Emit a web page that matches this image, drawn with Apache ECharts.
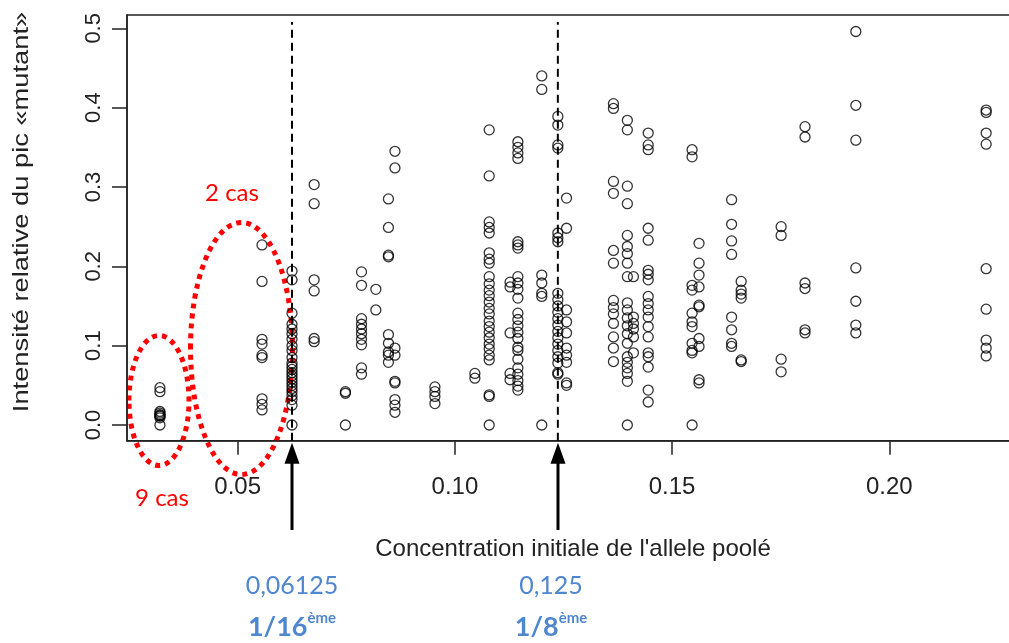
<!DOCTYPE html>
<html>
<head>
<meta charset="utf-8">
<script src="https://cdn.jsdelivr.net/npm/echarts@6/dist/echarts.min.js"></script>
<style>html,body{margin:0;padding:0;background:#fff}#c{width:1009px;height:643px}</style>
</head>
<body>
<div id="c"></div>
<script>
// initial concentration of each column of points
const concentrations = [0.0321, 0.0556, 0.0625, 0.0676, 0.0748, 0.0785, 0.0818, 0.0847, 0.0862, 0.0954,
  0.1046, 0.1079, 0.1127, 0.1145, 0.1200, 0.1237, 0.1257, 0.1365, 0.1397, 0.1411,
  0.1445, 0.1546, 0.1562, 0.1637, 0.1659, 0.1751, 0.1806, 0.1923, 0.2223];
// relative intensity of the "mutant" peak, one list per concentration
const intensities = [
  [0.047, 0.042, 0.017, 0.015, 0.013, 0.012, 0.011, 0.009, 0.0],
  [0.227, 0.181, 0.108, 0.102, 0.088, 0.085, 0.033, 0.026, 0.019],
  [0.194, 0.183, 0.141, 0.127, 0.121, 0.115, 0.108, 0.100, 0.094, 0.085, 0.078, 0.074, 0.070, 0.066, 0.062, 0.058, 0.054, 0.050, 0.046, 0.042, 0.037, 0.032, 0.025, 0.0],
  [0.303, 0.279, 0.183, 0.169, 0.109, 0.105],
  [0.042, 0.040, 0.0],
  [0.193, 0.176, 0.134, 0.127, 0.121, 0.115, 0.108, 0.101, 0.072, 0.064],
  [0.171, 0.145],
  [0.285, 0.249, 0.214, 0.212, 0.114, 0.103, 0.092, 0.088, 0.079],
  [0.345, 0.324, 0.097, 0.088, 0.055, 0.053, 0.032, 0.025, 0.016],
  [0.048, 0.042, 0.036, 0.027],
  [0.065, 0.059],
  [0.372, 0.314, 0.256, 0.249, 0.242, 0.217, 0.209, 0.204, 0.187, 0.178, 0.170, 0.163, 0.155, 0.147, 0.140, 0.131, 0.124, 0.117, 0.110, 0.102, 0.096, 0.088, 0.082, 0.038, 0.036, 0.0],
  [0.180, 0.174, 0.116, 0.065, 0.057],
  [0.357, 0.350, 0.343, 0.336, 0.231, 0.227, 0.223, 0.187, 0.179, 0.171, 0.160, 0.141, 0.133, 0.125, 0.117, 0.109, 0.098, 0.094, 0.083, 0.072, 0.064, 0.056, 0.049, 0.044],
  [0.440, 0.423, 0.189, 0.179, 0.166, 0.162, 0.0],
  [0.389, 0.378, 0.353, 0.349, 0.242, 0.236, 0.231, 0.166, 0.158, 0.150, 0.142, 0.134, 0.126, 0.118, 0.110, 0.102, 0.094, 0.086, 0.078, 0.066, 0.064],
  [0.286, 0.248, 0.145, 0.130, 0.116, 0.097, 0.088, 0.079, 0.053, 0.050],
  [0.405, 0.399, 0.307, 0.292, 0.220, 0.204, 0.157, 0.148, 0.140, 0.128, 0.111, 0.097, 0.080],
  [0.384, 0.372, 0.301, 0.279, 0.239, 0.225, 0.216, 0.204, 0.187, 0.154, 0.145, 0.135, 0.125, 0.115, 0.103, 0.086, 0.079, 0.072, 0.065, 0.055, 0.0],
  [0.187, 0.136, 0.128, 0.121, 0.111, 0.091],
  [0.368, 0.353, 0.347, 0.248, 0.233, 0.195, 0.190, 0.183, 0.162, 0.153, 0.145, 0.136, 0.124, 0.111, 0.091, 0.086, 0.073, 0.044, 0.029],
  [0.347, 0.338, 0.176, 0.170, 0.141, 0.130, 0.124, 0.103, 0.094, 0.091, 0.0],
  [0.229, 0.204, 0.189, 0.174, 0.151, 0.149, 0.109, 0.099, 0.057, 0.053],
  [0.284, 0.253, 0.232, 0.215, 0.136, 0.120, 0.103, 0.099],
  [0.181, 0.170, 0.165, 0.160, 0.082, 0.080],
  [0.250, 0.239, 0.083, 0.067],
  [0.376, 0.363, 0.179, 0.172, 0.120, 0.116],
  [0.496, 0.403, 0.359, 0.198, 0.156, 0.126, 0.116],
  [0.397, 0.394, 0.368, 0.354, 0.197, 0.146, 0.107, 0.097, 0.087]
];
const xTickValues = [0.05, 0.10, 0.15, 0.20];
const yTickValues = [0.0, 0.1, 0.2, 0.3, 0.4, 0.5];
const referenceLines = [0.0625, 0.1237];
const xTitle = "Concentration initiale de l'allele poolé";
const yTitle = "Intensité relative du pic «mutant»";
const refValueLabels = ["0,06125", "0,125"];
const refFractionLabels = ["1/16", "1/8"];
const groupLabels = ["9 cas", "2 cas"];

const points = [];
concentrations.forEach((x, i) => intensities[i].forEach(y => points.push([x, y])));

const Y_MIN = -0.0198, Y_MAX = 0.5168;
const chart = echarts.init(document.getElementById('c'), null, {renderer: 'canvas'});
const FONT = 'Liberation Sans, Arial, sans-serif';
const BLUE = '#4F86D0';

const refSeries = referenceLines.map(v => ({
  type: 'line', data: [[v, Y_MIN], [v, 0.508]], symbol: 'none', silent: true,
  lineStyle: {color: '#000', type: [8, 5], width: 2}, emphasis: {disabled: true}, z: 1
}));

const option = {
  animation: false,
  backgroundColor: '#fff',
  grid: {left: 127, top: 15, width: 892, height: 425.7, outerBoundsMode: 'none', containLabel: false,
    show: true, borderColor: '#222', borderWidth: 1.5, backgroundColor: 'transparent'},
  xAxis: {
    type: 'value', min: 0.024517, max: 0.22986,
    splitLine: {show: false},
    axisLine: {show: true, onZero: false, lineStyle: {color: '#222', width: 1.5}},
    axisTick: {show: true, customValues: xTickValues, length: 14, lineStyle: {color: '#222', width: 1.5}},
    axisLabel: {customValues: xTickValues, formatter: v => v.toFixed(2), fontFamily: FONT, fontSize: 24, color: '#222', margin: 35},
    name: xTitle, nameLocation: 'middle', nameGap: 97,
    nameTextStyle: {fontFamily: FONT, fontSize: 24, color: '#222'}
  },
  yAxis: {
    type: 'value', min: Y_MIN, max: Y_MAX,
    splitLine: {show: false},
    axisLine: {show: true, onZero: false, lineStyle: {color: '#222', width: 1.5}},
    axisTick: {show: true, customValues: yTickValues, length: 15, lineStyle: {color: '#222', width: 1.5}},
    axisLabel: {customValues: yTickValues, formatter: v => v.toFixed(1), rotate: 90, fontFamily: FONT, fontSize: 22, color: '#222', margin: 22}
  },
  series: refSeries.concat([{
    type: 'scatter',
    data: points,
    symbol: 'circle',
    symbolSize: 10,
    itemStyle: {color: 'rgba(0,0,0,0)', borderColor: '#000', borderWidth: 1.3},
    emphasis: {disabled: true},
    silent: true,
    z: 2
  }])
};
chart.setOption(option);

// annotations placed relative to the axes
function px(v) { return chart.convertToPixel({xAxisIndex: 0}, v); }
function py(v) { return chart.convertToPixel({yAxisIndex: 0}, v); }
const graphics = [];
const arrowTop = py(Y_MIN) + 2;
referenceLines.forEach((v, i) => {
  const x = Math.round(px(v));
  graphics.push({type: 'line', shape: {x1: x, y1: arrowTop + 18, x2: x, y2: 530}, style: {stroke: '#000', lineWidth: 3}});
  graphics.push({type: 'polygon', shape: {points: [[x, arrowTop], [x - 7.5, arrowTop + 21], [x + 7.5, arrowTop + 21]]}, style: {fill: '#000'}});
  graphics.push({type: 'text', x: x - (i === 0 ? 0 : 7), y: 586, style: {text: refValueLabels[i], fontFamily: 'Lato, Open Sans, sans-serif', fontSize: 25, fill: BLUE, align: 'center', verticalAlign: 'middle'}});
  graphics.push({type: 'text', x: x - (i === 0 ? 0 : 7), y: 626, style: {
    text: '{b|' + refFractionLabels[i] + '}{s|ème}', align: 'center', verticalAlign: 'middle',
    rich: {
      b: {fontFamily: 'Lato, Open Sans, sans-serif', fontSize: 27, fontWeight: 'bold', fill: BLUE, lineHeight: 30, verticalAlign: 'bottom'},
      s: {fontFamily: 'Lato, Open Sans, sans-serif', fontSize: 15, fontWeight: 'bold', fill: BLUE, lineHeight: 30, verticalAlign: 'top', padding: [0, 0, 14, 0]}
    }}});
});
// red dotted ellipses around the low-concentration groups
graphics.push({type: 'ellipse', shape: {cx: 159, cy: 400.5, rx: 30, ry: 65}, style: {fill: null, stroke: '#FF0000', lineWidth: 5, lineDash: [5, 5]}});
graphics.push({type: 'ellipse', shape: {cx: 241.5, cy: 348.5, rx: 51, ry: 126}, style: {fill: null, stroke: '#FF0000', lineWidth: 5, lineDash: [5, 5]}});
graphics.push({type: 'text', x: 162, y: 498, style: {text: groupLabels[0], fontFamily: 'Lato, sans-serif', fontSize: 24, fill: '#FF0000', align: 'center', verticalAlign: 'middle'}});
graphics.push({type: 'text', x: 232, y: 193, style: {text: groupLabels[1], fontFamily: 'Lato, sans-serif', fontSize: 24, fill: '#FF0000', align: 'center', verticalAlign: 'middle'}});
// y axis title
graphics.push({type: 'text', x: 22, y: 212, rotation: Math.PI / 2, scaleX: 1.24, style: {text: yTitle, fontFamily: FONT, fontSize: 22, fill: '#222', align: 'center', verticalAlign: 'middle'}});
chart.setOption({graphic: graphics});
</script>
</body>
</html>
